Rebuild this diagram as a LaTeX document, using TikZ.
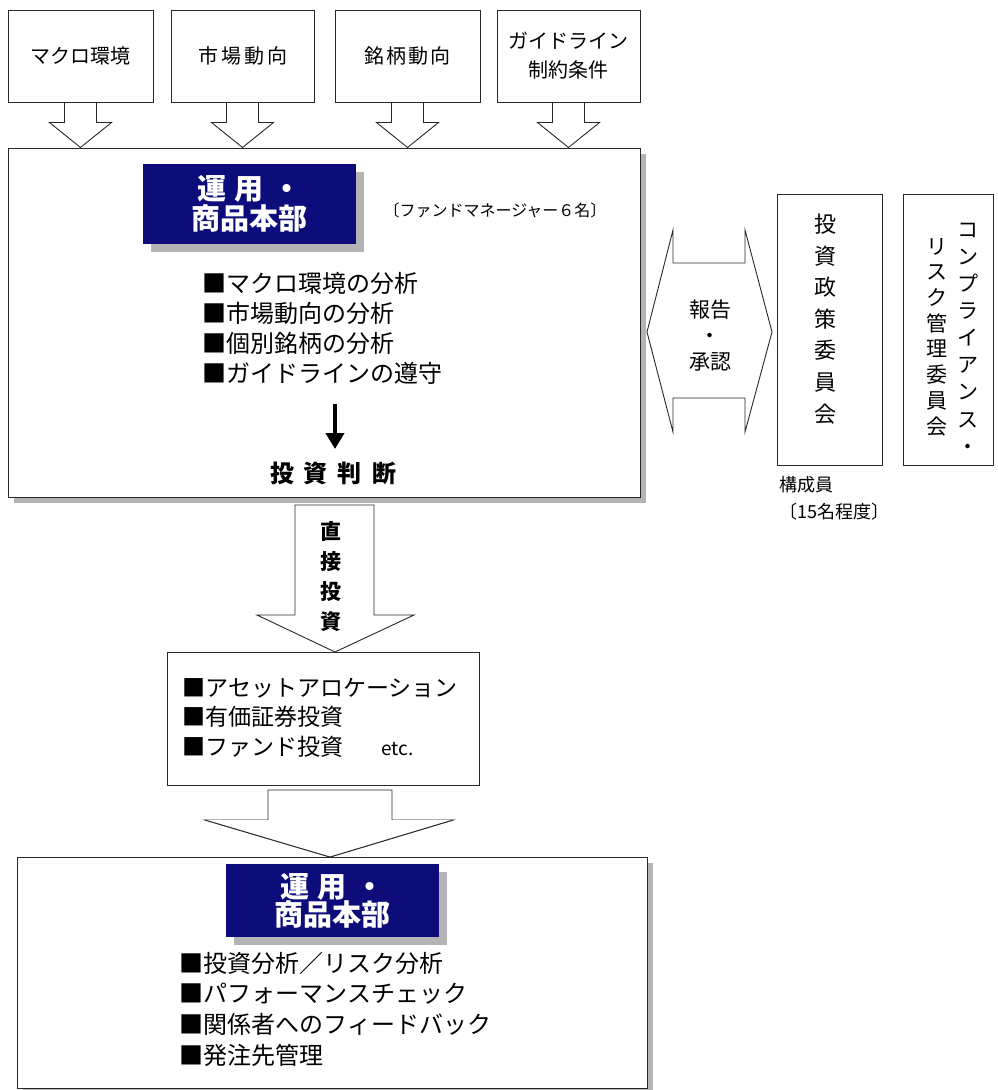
\documentclass[tikz,border=0pt]{standalone}
\usepackage{fontspec}
\setmainfont{Noto Sans CJK JP}
\usetikzlibrary{calc,arrows.meta,shadows}
\definecolor{navy}{RGB}{12,12,122}
\definecolor{shade}{RGB}{180,180,180}
\definecolor{edge}{RGB}{40,40,40}
\begin{document}
\begin{tikzpicture}[x=1pt,y=-1pt,
  box/.style={draw=edge,line width=1pt,fill=white,inner sep=0pt},
  shbox/.style={box,drop shadow={shadow xshift=6pt,shadow yshift=-6pt,fill=shade,opacity=1}},
  bluebox/.style={fill=navy,text=white,font=\bfseries\fontsize{29}{32}\selectfont,align=center,inner sep=0pt,
    drop shadow={shadow xshift=8pt,shadow yshift=-8pt,fill=shade,opacity=1}},
  blockarrow/.style={draw=edge,line width=0.9pt,fill=white,line join=miter},
  toptext/.style={font=\fontsize{20}{29}\selectfont,align=center},
  listtext/.style={anchor=west,align=left},
  vtext/.style={align=center,inner sep=0pt}
]
\useasboundingbox[fill=white] (0,0) rectangle (998,1090);

% top input boxes
\node[box,minimum width=145pt,minimum height=92pt,toptext] (b1) at (80.5,56) {マクロ環境};
\node[box,minimum width=143pt,minimum height=92pt,toptext] (b2) at (242.5,56) {市\hspace{3pt}場\hspace{3pt}動\hspace{3pt}向};
\node[box,minimum width=145pt,minimum height=92pt,toptext] (b3) at (407.5,56) {銘\hspace{2pt}柄\hspace{2pt}動\hspace{2pt}向};
\node[box,minimum width=143pt,minimum height=92pt,toptext] (b4) at (568.5,56) {ガイドライン\\制約条件};

% main box
\node[shbox,minimum width=632pt,minimum height=349pt] (m1) at (324,322.5) {};
\node[bluebox,minimum width=213pt,minimum height=80pt] (bb1) at (249.5,204) {運\hspace{9pt}用\hspace{9pt}・\\[-2pt]商品本部};
\node[font=\fontsize{16}{16}\selectfont] (fm) at (495,210) {〔ファンドマネージャー６名〕};
\node[listtext,font=\fontsize{24}{30}\selectfont] (l1) at (199,328) {■マクロ環境の分析\\■市場動向の分析\\■個別銘柄の分析\\■ガイドラインの遵守};
\node[font=\bfseries\fontsize{24}{24}\selectfont] (jd) at (333,473) {投\hspace{10pt}資\hspace{10pt}判\hspace{10pt}断};
\coordinate (ja) at (335,404);
\draw[line width=4.5pt,-{Triangle[length=16pt,width=18pt]},shorten >=9pt] (ja) -- (ja |- jd.north);

% top block arrows
\foreach \b in {b1,b2,b3,b4}{
  \draw[blockarrow] ($(\b.south)+(-16,0)$) -- ++(0,20) -- ++(-15,0) -- (\b.south |- m1.north)
    -- ($(\b.south)+(31,20)$) -- ++(-15,0) -- ($(\b.south)+(16,0)$) -- cycle;
}

% report / approval double arrow
\draw[blockarrow] (647,332) -- (673,230) -- (673,263) -- (745,263) -- (745,230) -- (772,332)
  -- (745,432) -- (745,398) -- (673,398) -- (673,432) -- cycle;
\node[vtext,font=\fontsize{21}{26}\selectfont] (ra) at (710,336) {報告\\・\\承認};

% committees
\node[box,minimum width=105pt,minimum height=271pt] (c1) at (829.5,329.5) {};
\node[vtext,font=\fontsize{22}{31.6}\selectfont] (c1t) at (825,319) {投\\資\\政\\策\\委\\員\\会};
\node[box,minimum width=90pt,minimum height=271pt] (c2) at (948,329.5) {};
\node[vtext,font=\fontsize{21}{27.1}\selectfont] (c2r) at (968,338.5) {コ\\ン\\プ\\ラ\\イ\\ア\\ン\\ス\\・};
\node[vtext,font=\fontsize{21}{25.7}\selectfont] (c2l) at (937,337) {リ\\ス\\ク\\管\\理\\委\\員\\会};
\node[listtext,font=\fontsize{18}{27}\selectfont,inner sep=0pt] (mem) at (779,498.5) {構成員\\〔15名程度〕};

% direct investment arrow
\draw[blockarrow] (295,505) -- (295,615) -- (257,615) -- (335,652) -- (414,615) -- (374,615) -- (374,505) -- cycle;
\node[vtext,font=\bfseries\fontsize{21}{30}\selectfont] (dt) at (331,577) {直\\接\\投\\資};

% asset box
\node[box,minimum width=312pt,minimum height=133pt] (a1) at (323,718.5) {};
\node[listtext,font=\fontsize{23}{29.5}\selectfont] (l2) at (179,717.5) {■アセットアロケーション\\■有価証券投資\\■ファンド投資\hspace{38pt}{\fontsize{19}{19}\selectfont etc.}};

% arrow to bottom box
\draw[blockarrow] (268,790) -- (268,820) -- (205,820) -- (330,857) -- (453,820) -- (392,820) -- (392,790) -- cycle;

% bottom box
\node[shbox,minimum width=630pt,minimum height=231pt] (m2) at (332,972.5) {};
\draw[blockarrow] (205,820) -- (330,857) -- (453,820);
\node[bluebox,minimum width=213pt,minimum height=73pt] (bb2) at (332.5,900.5) {運\hspace{9pt}用\hspace{9pt}・\\[-4pt]商品本部};
\node[listtext,font=\fontsize{24}{30.7}\selectfont] (l3) at (176,1009) {■投資分析／リスク分析\\■パフォーマンスチェック\\■関係者へのフィードバック\\■発注先管理};
\end{tikzpicture}
\end{document}
